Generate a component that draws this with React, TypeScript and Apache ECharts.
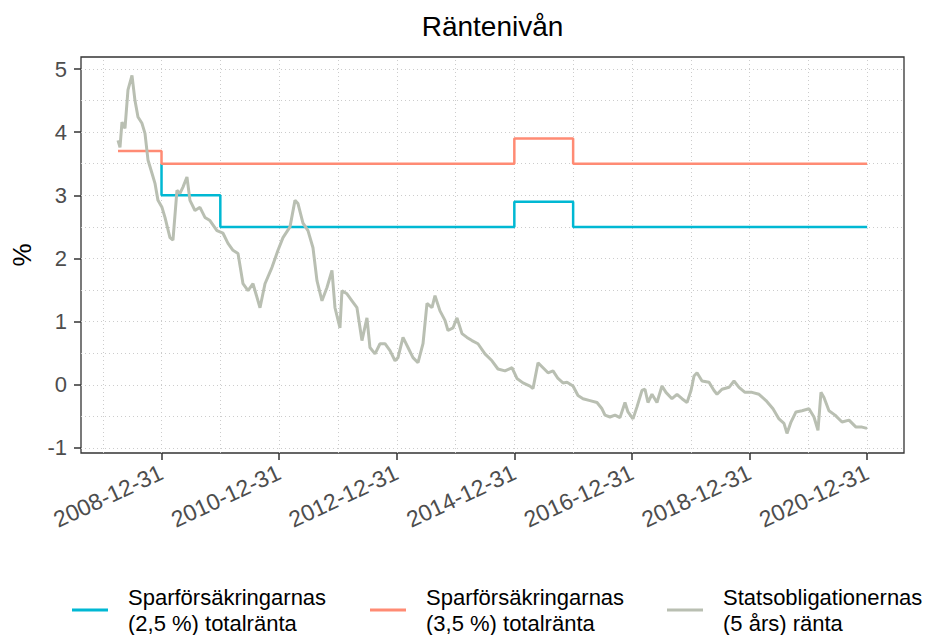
import React, { useEffect, useRef } from "react";
import * as echarts from "echarts";

// ---- Data ----
const TITLE = "Räntenivån";
const NAME_25 = "Sparförsäkringarnas\n(2,5 %) totalränta";
const NAME_35 = "Sparförsäkringarnas\n(3,5 %) totalränta";
const NAME_BOND = "Statsobligationernas\n(5 års) ränta";

// Step series (dates where the level changes, level from that date)
const rate25Dates = ["2008-12-31", "2008-12-31", "2009-12-31", "2014-12-31", "2015-12-31", "2020-12-31"];
const rate25Values = [3.5, 3.0, 2.5, 2.9, 2.5, 2.5];

const rate35Dates = ["2008-04-04", "2008-12-31", "2014-12-31", "2015-12-31", "2020-12-31"];
const rate35Values = [3.7, 3.5, 3.9, 3.5, 3.5];

// 5-year government bond yield (decimal year, %)
const bondYear = [
  2008.257, 2008.291, 2008.325, 2008.376, 2008.427, 2008.495, 2008.546, 2008.597, 2008.665, 2008.716,
  2008.767, 2008.835, 2008.886, 2008.937, 2009.005, 2009.056, 2009.141, 2009.192, 2009.260, 2009.311,
  2009.362, 2009.430, 2009.481, 2009.566, 2009.651, 2009.736, 2009.821, 2009.940, 2010.043, 2010.128,
  2010.213, 2010.298, 2010.383, 2010.468, 2010.553, 2010.672, 2010.757, 2010.876, 2010.978, 2011.063,
  2011.182, 2011.267, 2011.318, 2011.403, 2011.488, 2011.573, 2011.641, 2011.726, 2011.811, 2011.896,
  2011.947, 2012.032, 2012.066, 2012.151, 2012.236, 2012.321, 2012.406, 2012.491, 2012.542, 2012.628,
  2012.713, 2012.798, 2012.883, 2012.968, 2013.019, 2013.104, 2013.189, 2013.274, 2013.359, 2013.444,
  2013.512, 2013.597, 2013.648, 2013.733, 2013.818, 2013.869, 2013.954, 2014.022, 2014.107, 2014.192,
  2014.277, 2014.379, 2014.498, 2014.617, 2014.719, 2014.838, 2014.957, 2015.042, 2015.145, 2015.264,
  2015.315, 2015.400, 2015.485, 2015.570, 2015.655, 2015.740, 2015.825, 2015.893, 2015.995, 2016.080,
  2016.165, 2016.284, 2016.403, 2016.488, 2016.539, 2016.624, 2016.709, 2016.794, 2016.879, 2016.930,
  2017.015, 2017.083, 2017.168, 2017.219, 2017.270, 2017.338, 2017.423, 2017.508, 2017.576, 2017.678,
  2017.764, 2017.849, 2017.934, 2018.002, 2018.053, 2018.104, 2018.189, 2018.308, 2018.393, 2018.444,
  2018.529, 2018.648, 2018.733, 2018.818, 2018.920, 2019.039, 2019.158, 2019.277, 2019.396, 2019.498,
  2019.583, 2019.634, 2019.702, 2019.787, 2019.889, 2020.008, 2020.093, 2020.161, 2020.212, 2020.263,
  2020.348, 2020.451, 2020.570, 2020.689, 2020.808, 2020.910, 2020.995,
];
const bondRate = [
  3.87, 3.76, 4.16, 4.06, 4.67, 4.90, 4.50, 4.24, 4.14, 3.98,
  3.56, 3.35, 3.19, 2.92, 2.81, 2.65, 2.33, 2.29, 3.08, 3.03,
  3.13, 3.29, 2.92, 2.76, 2.81, 2.65, 2.60, 2.44, 2.40, 2.24,
  2.13, 2.08, 1.60, 1.49, 1.60, 1.22, 1.60, 1.86, 2.13, 2.33,
  2.50, 2.92, 2.87, 2.56, 2.44, 2.17, 1.65, 1.33, 1.54, 1.81,
  1.22, 0.90, 1.49, 1.44, 1.33, 1.22, 0.70, 1.06, 0.59, 0.49,
  0.65, 0.65, 0.54, 0.38, 0.43, 0.75, 0.59, 0.43, 0.35, 0.65,
  1.29, 1.22, 1.41, 1.17, 1.02, 0.86, 0.90, 1.06, 0.81, 0.75,
  0.70, 0.65, 0.49, 0.38, 0.25, 0.22, 0.27, 0.10, 0.03, -0.02,
  -0.06, 0.35, 0.27, 0.19, 0.22, 0.10, 0.03, 0.04, -0.02, -0.17,
  -0.22, -0.25, -0.28, -0.38, -0.48, -0.51, -0.48, -0.52, -0.28, -0.43,
  -0.54, -0.35, -0.09, -0.07, -0.28, -0.15, -0.28, -0.02, -0.12, -0.22,
  -0.15, -0.22, -0.28, -0.09, 0.14, 0.19, 0.06, 0.04, -0.09, -0.15,
  -0.07, -0.04, 0.06, -0.04, -0.12, -0.12, -0.15, -0.25, -0.38, -0.54,
  -0.61, -0.77, -0.59, -0.43, -0.41, -0.38, -0.51, -0.72, -0.12, -0.20,
  -0.41, -0.48, -0.59, -0.56, -0.67, -0.67, -0.69,
];

// Axis ticks / gridlines
const xTickDates = ["2008-12-31", "2010-12-31", "2012-12-31", "2014-12-31", "2016-12-31", "2018-12-31", "2020-12-31"];
const xGridDates = [
  "2007-12-31", "2008-12-31", "2009-12-31", "2010-12-31", "2011-12-31", "2012-12-31", "2013-12-31",
  "2014-12-31", "2015-12-31", "2016-12-31", "2017-12-31", "2018-12-31", "2019-12-31", "2020-12-31",
];
const yTicks = [-1, 0, 1, 2, 3, 4, 5];
const yGridLevels = [-1, -0.5, 0, 0.5, 1, 1.5, 2, 2.5, 3, 3.5, 4, 4.5, 5];
const xRangeYears = [2007.628, 2021.624];
const yRange = [-1.08, 5.19];

const COLOR_25 = "#00B8D3";
const COLOR_35 = "#FF8B74";
const COLOR_BOND = "#B9BFB2";
const FONT = "'Liberation Sans', Arial, Helvetica, sans-serif";

// convert an ISO date to a decimal year (position on the x axis)
function dateToYear(s: string): number {
  const [y, m, d] = s.split("-").map(Number);
  const start = Date.UTC(y, 0, 1);
  const end = Date.UTC(y + 1, 0, 1);
  const t = Date.UTC(y, m - 1, d);
  return y + (t - start) / (end - start);
}

export default function App() {
  const ref = useRef<HTMLDivElement>(null);
  useEffect(() => {
    if (!ref.current) return;
    const chart = echarts.init(ref.current, null, { renderer: "svg" });
    const xTicks = xTickDates.map(dateToYear);
    const tickLabel = (v: number) => {
      let best = 0;
      for (let i = 1; i < xTicks.length; i++) {
        if (Math.abs(xTicks[i] - v) < Math.abs(xTicks[best] - v)) best = i;
      }
      return xTickDates[best];
    };
    const legendBase = (name: string, left: number) => ({
      left,
      top: 584,
      padding: 0,
      orient: "horizontal",
      selectedMode: false,
      itemWidth: 36,
      itemHeight: 3,
      data: [{ name, icon: "rect" }],
      textStyle: {
        fontFamily: FONT,
        fontSize: 22,
        lineHeight: 26,
        color: "#000000",
        padding: [0, 0, 0, 15],
      },
    });
    const option: any = {
      animation: false,
      backgroundColor: "#ffffff",
      textStyle: { fontFamily: FONT },
      title: {
        text: TITLE,
        left: 492.5,
        textAlign: "center",
        top: 12,
        padding: 0,
        textStyle: { fontFamily: FONT, fontSize: 28, fontWeight: "normal", color: "#000000" },
      },
      legend: [
        legendBase(NAME_25, 72),
        legendBase(NAME_35, 370),
        legendBase(NAME_BOND, 667),
      ],
      grid: {
        left: 81,
        top: 57,
        width: 823,
        height: 396,
        outerBoundsMode: "none",
        containLabel: false,
        show: true,
        borderColor: "#333333",
        borderWidth: 1.3,
        backgroundColor: "transparent",
      },
      xAxis: {
        type: "value",
        min: xRangeYears[0],
        max: xRangeYears[1],
        axisLine: { show: false, onZero: false },
        axisTick: {
          show: true,
          length: 7,
          customValues: xTicks,
          lineStyle: { color: "#333333", width: 1.5 },
        },
        axisLabel: {
          customValues: xTicks,
          rotate: 25,
          margin: 18,
          fontSize: 23,
          color: "#4D4D4D",
          fontFamily: FONT,
          formatter: (v: number) => tickLabel(v),
        },
        splitLine: { show: false },
      },
      yAxis: {
        type: "value",
        min: yRange[0],
        max: yRange[1],
        name: "%",
        nameLocation: "middle",
        nameGap: 46,
        nameRotate: 90,
        nameTextStyle: { fontFamily: FONT, fontSize: 26, color: "#000000" },
        axisLine: { show: false, onZero: false },
        axisTick: {
          show: true,
          length: 7,
          customValues: yTicks,
          lineStyle: { color: "#333333", width: 1.5 },
        },
        axisLabel: {
          customValues: yTicks,
          margin: 14,
          fontSize: 22,
          color: "#4D4D4D",
          fontFamily: FONT,
          formatter: (v: number) => String(v),
        },
        splitLine: { show: false },
      },
      series: [
        {
          name: "__grid",
          type: "line",
          data: [[bondYear[0], bondRate[0]]],
          symbol: "none",
          silent: true,
          lineStyle: { opacity: 0 },
          z: 1,
          markLine: {
            z: 1,
            silent: true,
            animation: false,
            symbol: ["none", "none"],
            label: { show: false },
            emphasis: { disabled: true },
            lineStyle: { color: "#CCCCCC", type: [1, 3], width: 1 },
            data: [
              ...xGridDates.map((d) => ({ xAxis: dateToYear(d) })),
              ...yGridLevels.map((v) => ({ yAxis: v })),
            ],
          },
        },
        {
          name: NAME_25,
          type: "line",
          step: "end",
          symbol: "none",
          z: 3,
          color: COLOR_25,
          lineStyle: { color: COLOR_25, width: 2.5 },
          data: rate25Dates.map((d, i) => [dateToYear(d), rate25Values[i]]),
        },
        {
          name: NAME_35,
          type: "line",
          step: "end",
          symbol: "none",
          z: 3,
          color: COLOR_35,
          lineStyle: { color: COLOR_35, width: 2.5 },
          data: rate35Dates.map((d, i) => [dateToYear(d), rate35Values[i]]),
        },
        {
          name: NAME_BOND,
          type: "line",
          symbol: "none",
          z: 4,
          color: COLOR_BOND,
          lineStyle: { color: COLOR_BOND, width: 3 },
          data: bondYear.map((y, i) => [y, bondRate[i]]),
        },
      ],
    };
    chart.setOption(option);
    return () => chart.dispose();
  }, []);
  return (
    <div
      ref={ref}
      style={{ position: "absolute", left: 0, top: 0, width: 928, height: 635, background: "#fff" }}
    />
  );
}
